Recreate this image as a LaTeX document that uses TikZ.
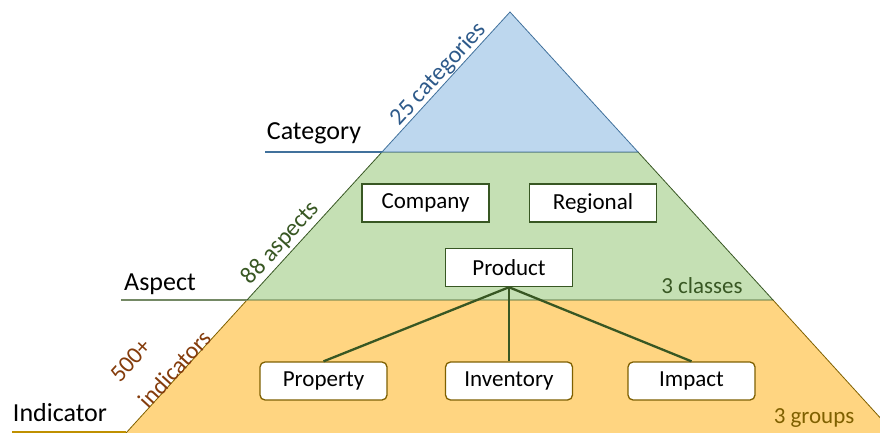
\documentclass[tikz,border=0pt]{standalone}
\usepackage{fontspec}
\setmainfont{Carlito}
\usepackage{tikz}
\usepackage{xcolor}
\usetikzlibrary{positioning, calc}

\definecolor{catfill}{HTML}{BDD7EE}
\definecolor{catline}{HTML}{41719C}
\definecolor{catText}{HTML}{2E5A8A}
\definecolor{aspfill}{HTML}{C5E0B4}
\definecolor{aspline}{HTML}{385723}
\definecolor{indfill}{HTML}{FFD581}
\definecolor{indline}{HTML}{7F6000}
\definecolor{indText}{HTML}{843C0C}
\definecolor{indRule}{HTML}{BF9000}

\begin{document}
\begin{tikzpicture}[x=1pt, y=-1pt,
    aspbox/.style={draw=aspline, line width=1.5pt, fill=white, rectangle, minimum width=127pt, minimum height=38pt, inner sep=0pt, font=\fontsize{23}{26}\selectfont},
    indbox/.style={draw=indline, line width=1.3pt, fill=white, rounded corners=5pt, minimum width=127pt, minimum height=38pt, inner sep=0pt, font=\fontsize{23}{26}\selectfont},
    level/.style={font=\fontsize{26}{30}\selectfont},
    count/.style={font=\fontsize{24}{33}\selectfont, rotate=47.6}]
    \useasboundingbox (0,0) rectangle (880,433);
    \clip (0,0) rectangle (880,433);

    % pyramid bands
    \coordinate (apex) at (510,12);
    \fill[indfill] (126,433) -- (247,300) -- (773,300) -- (894,433) -- cycle;
    \draw[indline, line width=0.8pt] (126,433) -- (247,300) (773,300) -- (894,433);
    \filldraw[fill=aspfill, draw=aspline, line width=0.8pt] (247,300) -- (382,152) -- (638,152) -- (773,300) -- cycle;
    \filldraw[fill=catfill, draw=catline, line width=0.8pt] (382,152) -- (apex) -- (638,152) -- cycle;

    % level rules and names
    \draw[catline, line width=1.3pt] (265,152) -- (382,152);
    \draw[aspline!70, line width=1.3pt] (121,300) -- (247,300);
    \draw[indRule, line width=1.3pt] (12,432) -- (126,432);
    \node[level] (category) at (314,133) {Category};
    \node[level] (aspect) at (160,284) {Aspect};
    \node[level] (indicator) at (60,413) {Indicator};

    % counts
    \node[count, text=catText] (ncat) at (439,74) {25 categories};
    \node[count, text=aspline] (nasp) at (281,243) {88 aspects};
    \node[count, text=indText, align=left] (nind) at (161,356) {500+\\[6pt]indicators};
    \node[font=\fontsize{23}{26}\selectfont, text=aspline] (classes) at (702,286) {3 classes};
    \node[font=\fontsize{23}{26}\selectfont, text=indline] (groups) at (814,418) {3 groups};

    % aspect classes
    \node[aspbox] (company) at (425.5,203) {Company};
    \node[aspbox] (regional) at (593,203) {Regional};
    \node[aspbox] (product) at (509,267.5) {Product};

    % indicator groups
    \node[indbox] (property) at (323.5,381) {Property};
    \node[indbox] (inventory) at (509,381) {Inventory};
    \node[indbox] (impact) at (691.5,381) {Impact};

    \draw[aspline, line width=2.3pt] (product.south) -- (property.north);
    \draw[aspline, line width=2.3pt] (product.south) -- (inventory.north);
    \draw[aspline, line width=2.3pt] (product.south) -- (impact.north);
\end{tikzpicture}
\end{document}
